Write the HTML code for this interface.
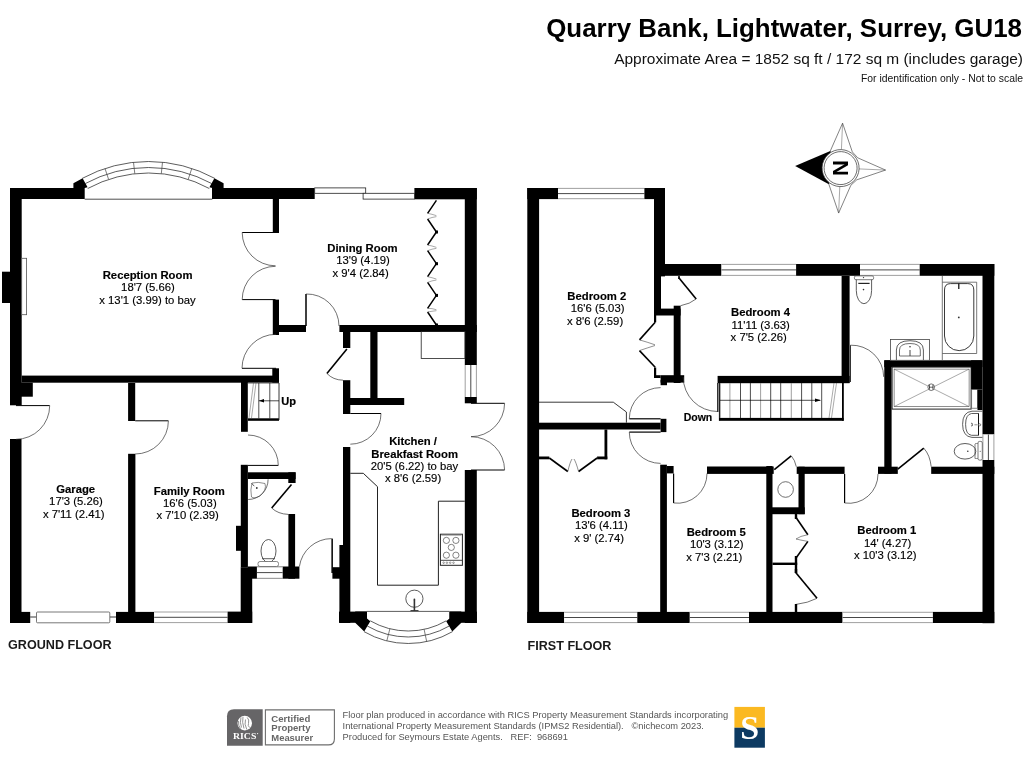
<!DOCTYPE html>
<html><head><meta charset="utf-8"><title>Floor plan</title>
<style>
html,body{margin:0;padding:0;background:#fff;}
body{width:1024px;height:768px;overflow:hidden;font-family:"Liberation Sans",sans-serif;}
svg{display:block;will-change:transform;font-family:"Liberation Sans",sans-serif;}
text{white-space:pre;}
</style></head><body>
<svg width="1024" height="768" viewBox="0 0 1024 768">
<rect width="1024" height="768" fill="#fff"/>
<rect x="10.0" y="188.0" width="64.0" height="11.0" fill="#000"/>
<rect x="212.0" y="188.0" width="102.7" height="11.0" fill="#000"/>
<polygon points="73.4,199.0 73.4,183.3 82.6,178.2 87.6,187.3 84.7,188.0 84.7,199.0" fill="#000"/>
<polygon points="223.6,199.0 223.6,183.3 214.4,178.2 209.4,187.3 212.3,188.0 212.3,199.0" fill="#000"/>
<path d="M82.20,178.40 A138.5,138.5 0 0 1 214.80,178.40" stroke="#333" stroke-width="0.8" fill="none"/>
<path d="M85.07,183.67 A132.5,132.5 0 0 1 211.93,183.67" stroke="#333" stroke-width="0.8" fill="none"/>
<path d="M87.71,188.50 A127,127 0 0 1 209.29,188.50" stroke="#333" stroke-width="0.8" fill="none"/>
<line x1="105.0" y1="168.5" x2="108.6" y2="179.4" stroke="#444" stroke-width="0.7"/>
<line x1="133.5" y1="162.3" x2="134.8" y2="173.7" stroke="#444" stroke-width="0.7"/>
<line x1="162.5" y1="162.2" x2="161.3" y2="173.7" stroke="#444" stroke-width="0.7"/>
<line x1="191.8" y1="168.4" x2="188.2" y2="179.4" stroke="#444" stroke-width="0.7"/>
<line x1="84.7" y1="199.2" x2="212.3" y2="199.2" stroke="#222" stroke-width="0.8"/>
<rect x="10.0" y="188.0" width="11.7" height="217.3" fill="#000"/>
<rect x="10.0" y="439.0" width="11.5" height="184.0" fill="#000"/>
<rect x="2.0" y="271.7" width="8.5" height="31.3" fill="#000"/>
<rect x="21.7" y="258.3" width="4.9" height="56.4" fill="#fff" stroke="#555" stroke-width="0.8" rx="0"/>
<rect x="21.7" y="375.6" width="257.3" height="7.1" fill="#000"/>
<rect x="21.0" y="382.7" width="11.8" height="14.0" fill="#000"/>
<rect x="272.8" y="199.0" width="6.2" height="34.0" fill="#000"/>
<rect x="272.8" y="299.6" width="6.2" height="35.4" fill="#000"/>
<rect x="272.3" y="368.3" width="6.7" height="14.4" fill="#000"/>
<line x1="275.5" y1="232.5" x2="242.2" y2="232.5" stroke="#000" stroke-width="1.0"/>
<path d="M242.20,232.50 A33.30,33.30 0 0 0 275.50,265.80" stroke="#333" stroke-width="0.7" fill="none"/>
<line x1="275.5" y1="299.6" x2="242.2" y2="299.6" stroke="#000" stroke-width="1.0"/>
<path d="M242.20,299.60 A33.30,33.30 0 0 1 275.50,266.30" stroke="#333" stroke-width="0.7" fill="none"/>
<line x1="276.0" y1="368.3" x2="242.0" y2="368.3" stroke="#000" stroke-width="1.0"/>
<path d="M242.00,368.30 A34.00,34.00 0 0 1 276.00,334.30" stroke="#333" stroke-width="0.7" fill="none"/>
<rect x="414.4" y="188.0" width="62.4" height="11.3" fill="#000"/>
<rect x="464.8" y="188.0" width="12.0" height="177.0" fill="#000"/>
<rect x="314.7" y="187.9" width="51.0" height="5.4" fill="#fff" stroke="#222" stroke-width="0.8" rx="0"/>
<rect x="363.1" y="193.3" width="51.3" height="5.8" fill="#fff" stroke="#222" stroke-width="0.8" rx="0"/>
<path d="M436.4,200.3 L427.6,213.3 M427.6,219 L436.4,232" stroke="#000" stroke-width="1.5" fill="none"/>
<path d="M427.6,213.3 Q432,214.15 436.4,215.65 M427.6,219 Q432,217.15 436.4,216.65" stroke="#555" stroke-width="0.5" fill="none"/>
<rect x="435.0" y="230.5" width="3.0" height="3.0" fill="#000"/>
<path d="M436.4,232 L427.6,245 M427.6,250.7 L436.4,263.7" stroke="#000" stroke-width="1.5" fill="none"/>
<path d="M427.6,245 Q432,245.85 436.4,247.35 M427.6,250.7 Q432,248.85 436.4,248.35" stroke="#555" stroke-width="0.5" fill="none"/>
<rect x="435.0" y="262.2" width="3.0" height="3.0" fill="#000"/>
<path d="M436.4,263.7 L427.6,276.7 M427.6,282.4 L436.4,295.4" stroke="#000" stroke-width="1.5" fill="none"/>
<path d="M427.6,276.7 Q432,277.54999999999995 436.4,279.04999999999995 M427.6,282.4 Q432,280.54999999999995 436.4,280.04999999999995" stroke="#555" stroke-width="0.5" fill="none"/>
<rect x="435.0" y="293.9" width="3.0" height="3.0" fill="#000"/>
<path d="M436.4,295.4 L427.6,308.4 M427.6,312 L436.4,325" stroke="#000" stroke-width="1.5" fill="none"/>
<path d="M427.6,308.4 Q432,308.2 436.4,309.7 M427.6,312 Q432,311.2 436.4,310.7" stroke="#555" stroke-width="0.5" fill="none"/>
<rect x="435.0" y="323.5" width="3.0" height="3.0" fill="#000"/>
<rect x="279.0" y="325.0" width="27.0" height="7.0" fill="#000"/>
<rect x="339.4" y="325.0" width="137.4" height="7.0" fill="#000"/>
<line x1="306.0" y1="326.0" x2="306.0" y2="294.0" stroke="#000" stroke-width="1.5"/>
<path d="M306.00,294.00 A32.00,32.00 0 0 1 339.00,326.00" stroke="#333" stroke-width="0.7" fill="none"/>
<rect x="343.0" y="325.0" width="7.3" height="23.0" fill="#000"/>
<rect x="343.0" y="380.2" width="7.3" height="33.8" fill="#000"/>
<rect x="370.3" y="332.0" width="7.2" height="66.0" fill="#000"/>
<rect x="343.0" y="398.0" width="61.2" height="7.0" fill="#000"/>
<line x1="346.9" y1="349.0" x2="326.9" y2="373.4" stroke="#000" stroke-width="1.6"/>
<path d="M326.9,373.4 Q333,380 343,380.2" stroke="#333" stroke-width="0.7" fill="none"/>
<line x1="350.3" y1="413.5" x2="381.0" y2="413.5" stroke="#000" stroke-width="1.0"/>
<path d="M381.00,413.50 A30.70,30.70 0 0 1 350.30,444.20" stroke="#333" stroke-width="0.7" fill="none"/>
<rect x="343.0" y="447.0" width="7.3" height="176.0" fill="#000"/>
<rect x="339.4" y="545.0" width="4.6" height="78.0" fill="#000"/>
<rect x="421.2" y="331.5" width="43.8" height="27.0" fill="none" stroke="#222" stroke-width="0.8" rx="0"/>
<rect x="241.0" y="376.0" width="6.8" height="55.8" fill="#000"/>
<line x1="248.0" y1="383.3" x2="279.0" y2="383.3" stroke="#555" stroke-width="0.6"/>
<rect x="248.0" y="418.3" width="31.0" height="2.5" fill="#000"/>
<line x1="279.0" y1="383.0" x2="279.0" y2="420.0" stroke="#222" stroke-width="0.9"/>
<line x1="258.8" y1="383.0" x2="258.8" y2="418.5" stroke="#222" stroke-width="0.8"/>
<line x1="269.8" y1="383.0" x2="269.8" y2="418.5" stroke="#222" stroke-width="0.8"/>
<line x1="249.0" y1="418.0" x2="253.5" y2="383.0" stroke="#555" stroke-width="0.5"/>
<line x1="251.5" y1="418.0" x2="256.0" y2="383.0" stroke="#555" stroke-width="0.5"/>
<line x1="258.8" y1="400.8" x2="279.0" y2="400.8" stroke="#000" stroke-width="0.7"/>
<polygon points="259.0,400.8 264.0,399.0 264.0,402.6" fill="#000"/>
<text x="281.2" y="405" font-size="11.1" font-weight="bold" text-anchor="start" fill="#000" stroke="#000" stroke-width="0.2">Up</text>
<line x1="248.0" y1="465.4" x2="278.3" y2="465.4" stroke="#000" stroke-width="1.0"/>
<path d="M278.30,465.40 A30.30,30.30 0 0 0 248.00,435.00" stroke="#333" stroke-width="0.7" fill="none"/>
<rect x="248.0" y="472.3" width="47.6" height="6.7" fill="#000"/>
<rect x="288.3" y="472.3" width="7.3" height="10.7" fill="#000"/>
<rect x="240.8" y="464.8" width="7.1" height="102.4" fill="#000"/>
<rect x="240.7" y="567.2" width="11.5" height="55.6" fill="#000"/>
<rect x="236.0" y="525.8" width="5.0" height="25.0" fill="#000"/>
<line x1="291.5" y1="484.6" x2="271.7" y2="508.0" stroke="#000" stroke-width="1.6"/>
<path d="M271.7,508 Q278,514 288.3,514.4" stroke="#333" stroke-width="0.7" fill="none"/>
<rect x="288.4" y="514.0" width="6.7" height="64.7" fill="#000"/>
<rect x="248.0" y="566.5" width="51.4" height="12.2" fill="#000"/>
<rect x="256.9" y="566.5" width="25.8" height="12.2" fill="#fff"/>
<line x1="256.9" y1="566.9" x2="282.7" y2="566.9" stroke="#888" stroke-width="0.8"/>
<line x1="256.9" y1="578.3" x2="282.7" y2="578.3" stroke="#888" stroke-width="0.8"/>
<line x1="256.9" y1="572.6" x2="282.7" y2="572.6" stroke="#333" stroke-width="0.9"/>
<rect x="331.4" y="538.6" width="1.5" height="34.4" fill="#000"/>
<path d="M299.4,566.5 A32.5,32.5 0 0 1 331.6,538.6" stroke="#333" stroke-width="0.7" fill="none"/>
<rect x="332.4" y="567.2" width="7.8" height="11.5" fill="#000"/>
<rect x="128.1" y="383.0" width="7.1" height="38.0" fill="#000"/>
<rect x="128.1" y="453.8" width="7.3" height="169.2" fill="#000"/>
<line x1="16.0" y1="405.6" x2="49.7" y2="405.6" stroke="#000" stroke-width="1.0"/>
<path d="M49.70,405.60 A33.70,33.70 0 0 1 16.00,439.30" stroke="#333" stroke-width="0.7" fill="none"/>
<line x1="135.2" y1="420.8" x2="168.4" y2="420.8" stroke="#000" stroke-width="1.0"/>
<path d="M168.40,420.80 A33.20,33.20 0 0 1 135.20,454.00" stroke="#333" stroke-width="0.7" fill="none"/>
<rect x="10.0" y="611.9" width="20.2" height="11.1" fill="#000"/>
<line x1="30.2" y1="617.0" x2="36.5" y2="617.0" stroke="#222" stroke-width="0.9"/>
<line x1="109.8" y1="617.0" x2="116.0" y2="617.0" stroke="#222" stroke-width="0.9"/>
<rect x="36.5" y="612.0" width="73.3" height="10.8" fill="#fff" stroke="#555" stroke-width="0.8" rx="1"/>
<rect x="116.0" y="611.9" width="38.2" height="11.1" fill="#000"/>
<rect x="154.2" y="611.6" width="73.4" height="11.4" fill="#fff"/>
<line x1="154.2" y1="612.0" x2="227.6" y2="612.0" stroke="#888" stroke-width="0.8"/>
<line x1="154.2" y1="622.6" x2="227.6" y2="622.6" stroke="#888" stroke-width="0.8"/>
<line x1="154.2" y1="617.3" x2="227.6" y2="617.3" stroke="#333" stroke-width="0.9"/>
<rect x="227.6" y="611.6" width="24.6" height="11.4" fill="#000"/>
<rect x="464.8" y="397.0" width="12.0" height="6.3" fill="#000"/>
<rect x="464.8" y="470.0" width="12.0" height="153.0" fill="#000"/>
<rect x="464.8" y="365.0" width="12.0" height="32.0" fill="#fff"/>
<line x1="465.2" y1="365.0" x2="465.2" y2="397.0" stroke="#888" stroke-width="0.8"/>
<line x1="476.4" y1="365.0" x2="476.4" y2="397.0" stroke="#888" stroke-width="0.8"/>
<line x1="470.8" y1="365.0" x2="470.8" y2="397.0" stroke="#333" stroke-width="0.9"/>
<line x1="471.0" y1="403.3" x2="504.6" y2="403.3" stroke="#000" stroke-width="1.0"/>
<path d="M504.60,403.30 A33.60,33.60 0 0 1 471.00,436.70" stroke="#333" stroke-width="0.7" fill="none"/>
<line x1="471.0" y1="470.0" x2="504.6" y2="470.0" stroke="#000" stroke-width="1.0"/>
<path d="M504.60,470.00 A33.60,33.60 0 0 0 471.00,436.70" stroke="#333" stroke-width="0.7" fill="none"/>
<path d="M350.3,473.3 L363.3,473.3 L377.5,486.7 L377.5,585.2 L438.4,585.2 L438.4,501.2 L464.8,501.2" stroke="#222" stroke-width="1.0" fill="none"/>
<rect x="440.4" y="534.2" width="22.0" height="31.1" fill="#fff" stroke="#222" stroke-width="1.0" rx="0"/>
<line x1="441.3" y1="535.2" x2="461.5" y2="535.2" stroke="#888" stroke-width="0.8"/>
<circle cx="446.4" cy="540.4" r="3.1" fill="none" stroke="#333" stroke-width="0.6"/>
<circle cx="455.9" cy="540.4" r="3.1" fill="none" stroke="#333" stroke-width="0.6"/>
<circle cx="451.3" cy="547.4" r="3.1" fill="none" stroke="#333" stroke-width="0.6"/>
<circle cx="446.4" cy="555.2" r="3.1" fill="none" stroke="#333" stroke-width="0.6"/>
<circle cx="455.9" cy="555.2" r="3.1" fill="none" stroke="#333" stroke-width="0.6"/>
<line x1="441.0" y1="560.3" x2="462.0" y2="560.3" stroke="#333" stroke-width="0.9"/>
<circle cx="443.6" cy="562.7" r="0.8" fill="none" stroke="#444" stroke-width="0.5"/>
<circle cx="446.9" cy="562.7" r="0.8" fill="none" stroke="#444" stroke-width="0.5"/>
<circle cx="450.2" cy="562.7" r="0.8" fill="none" stroke="#444" stroke-width="0.5"/>
<circle cx="453.5" cy="562.7" r="0.8" fill="none" stroke="#444" stroke-width="0.5"/>
<circle cx="414.4" cy="598.7" r="8.6" fill="none" stroke="#333" stroke-width="0.8"/>
<line x1="414.4" y1="600.0" x2="414.4" y2="611.0" stroke="#333" stroke-width="1.6"/>
<line x1="410.5" y1="610.6" x2="418.5" y2="610.6" stroke="#333" stroke-width="1.0"/>
<circle cx="414.4" cy="599.5" r="0.9" fill="#333"/>
<rect x="339.0" y="611.6" width="27.7" height="11.2" fill="#000"/>
<rect x="449.5" y="611.6" width="27.4" height="11.2" fill="#000"/>
<polygon points="355.2,611.6 367.0,611.6 367.0,618.5 370.3,621.2 364.2,631.5 355.2,622.7" fill="#000"/>
<polygon points="461.3,611.6 449.5,611.6 449.5,618.5 446.2,621.2 452.3,631.5 461.3,622.7" fill="#000"/>
<line x1="366.7" y1="611.4" x2="449.5" y2="611.4" stroke="#333" stroke-width="0.8"/>
<path d="M452.50,631.64 A88.5,88.5 0 0 1 364.00,631.64" stroke="#333" stroke-width="0.8" fill="none"/>
<path d="M449.25,626.01 A82,82 0 0 1 367.25,626.01" stroke="#333" stroke-width="0.8" fill="none"/>
<path d="M446.25,620.82 A76,76 0 0 1 370.25,620.82" stroke="#333" stroke-width="0.8" fill="none"/>
<line x1="426.7" y1="641.6" x2="424.1" y2="629.3" stroke="#444" stroke-width="0.7"/>
<line x1="386.8" y1="640.9" x2="389.9" y2="628.7" stroke="#444" stroke-width="0.7"/>
<rect x="527.3" y="188.0" width="11.8" height="435.0" fill="#000"/>
<rect x="527.3" y="188.0" width="30.7" height="11.1" fill="#000"/>
<rect x="558.0" y="188.0" width="86.4" height="11.1" fill="#fff"/>
<line x1="558.0" y1="188.4" x2="644.4" y2="188.4" stroke="#888" stroke-width="0.8"/>
<line x1="558.0" y1="198.7" x2="644.4" y2="198.7" stroke="#888" stroke-width="0.8"/>
<line x1="558.0" y1="193.6" x2="644.4" y2="193.6" stroke="#333" stroke-width="0.9"/>
<rect x="644.4" y="188.0" width="20.6" height="11.1" fill="#000"/>
<rect x="654.0" y="188.0" width="11.0" height="88.4" fill="#000"/>
<rect x="654.0" y="276.0" width="7.0" height="39.5" fill="#000"/>
<rect x="654.0" y="264.0" width="67.5" height="11.8" fill="#000"/>
<rect x="721.5" y="264.0" width="74.6" height="11.8" fill="#fff"/>
<line x1="721.5" y1="264.4" x2="796.1" y2="264.4" stroke="#888" stroke-width="0.8"/>
<line x1="721.5" y1="275.4" x2="796.1" y2="275.4" stroke="#888" stroke-width="0.8"/>
<line x1="721.5" y1="269.9" x2="796.1" y2="269.9" stroke="#333" stroke-width="0.9"/>
<rect x="796.1" y="264.0" width="63.9" height="11.8" fill="#000"/>
<rect x="860.0" y="264.0" width="59.7" height="11.8" fill="#fff"/>
<line x1="860.0" y1="264.4" x2="919.7" y2="264.4" stroke="#888" stroke-width="0.8"/>
<line x1="860.0" y1="275.4" x2="919.7" y2="275.4" stroke="#888" stroke-width="0.8"/>
<line x1="860.0" y1="269.9" x2="919.7" y2="269.9" stroke="#333" stroke-width="0.9"/>
<rect x="919.7" y="264.0" width="74.6" height="11.8" fill="#000"/>
<rect x="982.5" y="264.0" width="11.8" height="170.5" fill="#000"/>
<rect x="982.5" y="434.5" width="11.8" height="25.5" fill="#fff"/>
<line x1="982.9" y1="434.5" x2="982.9" y2="460.0" stroke="#888" stroke-width="0.8"/>
<line x1="993.9" y1="434.5" x2="993.9" y2="460.0" stroke="#888" stroke-width="0.8"/>
<line x1="988.4" y1="434.5" x2="988.4" y2="460.0" stroke="#333" stroke-width="0.9"/>
<rect x="982.5" y="460.0" width="11.8" height="163.2" fill="#000"/>
<rect x="527.3" y="611.9" width="36.9" height="11.1" fill="#000"/>
<rect x="564.2" y="611.9" width="73.1" height="11.1" fill="#fff"/>
<line x1="564.2" y1="612.3" x2="637.3" y2="612.3" stroke="#888" stroke-width="0.8"/>
<line x1="564.2" y1="622.6" x2="637.3" y2="622.6" stroke="#888" stroke-width="0.8"/>
<line x1="564.2" y1="617.5" x2="637.3" y2="617.5" stroke="#333" stroke-width="0.9"/>
<rect x="637.3" y="611.9" width="52.5" height="11.1" fill="#000"/>
<rect x="689.8" y="611.9" width="59.2" height="11.1" fill="#fff"/>
<line x1="689.8" y1="612.3" x2="749.0" y2="612.3" stroke="#888" stroke-width="0.8"/>
<line x1="689.8" y1="622.6" x2="749.0" y2="622.6" stroke="#888" stroke-width="0.8"/>
<line x1="689.8" y1="617.5" x2="749.0" y2="617.5" stroke="#333" stroke-width="0.9"/>
<rect x="749.0" y="611.9" width="93.6" height="11.1" fill="#000"/>
<rect x="842.6" y="611.9" width="90.3" height="11.1" fill="#fff"/>
<line x1="842.6" y1="612.3" x2="932.9" y2="612.3" stroke="#888" stroke-width="0.8"/>
<line x1="842.6" y1="622.6" x2="932.9" y2="622.6" stroke="#888" stroke-width="0.8"/>
<line x1="842.6" y1="617.5" x2="932.9" y2="617.5" stroke="#333" stroke-width="0.9"/>
<rect x="932.9" y="611.9" width="61.4" height="11.1" fill="#000"/>
<rect x="661.0" y="308.6" width="19.6" height="6.9" fill="#000"/>
<rect x="673.7" y="305.7" width="6.9" height="77.3" fill="#000"/>
<line x1="678.6" y1="277.4" x2="696.2" y2="298.9" stroke="#000" stroke-width="1.6"/>
<path d="M696.2,298.9 Q690,304 680.6,305.7" stroke="#333" stroke-width="0.7" fill="none"/>
<line x1="679.0" y1="276.0" x2="679.0" y2="279.0" stroke="#000" stroke-width="1.6"/>
<rect x="654.0" y="315.0" width="2.2" height="7.3" fill="#000"/>
<path d="M655.2,322.3 L639.5,339.9" stroke="#000" stroke-width="1.6" fill="none"/>
<path d="M639.5,339.9 Q647,342 655,344.8" stroke="#444" stroke-width="0.6" fill="none"/>
<path d="M655.2,367.3 L639.5,350.6" stroke="#000" stroke-width="1.6" fill="none"/>
<path d="M639.5,350.6 Q647,348 655,345.5" stroke="#444" stroke-width="0.6" fill="none"/>
<rect x="654.0" y="367.5" width="2.2" height="8.5" fill="#000"/>
<rect x="654.0" y="375.2" width="6.6" height="2.8" fill="#000"/>
<rect x="660.6" y="375.2" width="23.6" height="7.4" fill="#000"/>
<rect x="660.6" y="380.0" width="6.4" height="5.2" fill="#000"/>
<line x1="717.8" y1="383.0" x2="717.8" y2="412.0" stroke="#000" stroke-width="1.2"/>
<path d="M683.2,377 A34.5,34.5 0 0 0 717.7,411.5" stroke="#333" stroke-width="0.7" fill="none"/>
<rect x="841.6" y="276.0" width="8.0" height="106.8" fill="#000"/>
<rect x="717.6" y="375.9" width="132.0" height="7.3" fill="#000"/>
<line x1="719.5" y1="383.0" x2="719.5" y2="420.8" stroke="#000" stroke-width="1.2"/>
<rect x="719.5" y="417.9" width="124.1" height="2.9" fill="#000"/>
<rect x="842.0" y="383.0" width="1.8" height="37.8" fill="#000"/>
<line x1="720.2" y1="383.0" x2="720.2" y2="418.0" stroke="#888" stroke-width="0.8"/>
<line x1="729.9" y1="383.0" x2="729.9" y2="418.0" stroke="#888" stroke-width="0.8"/>
<line x1="740.5" y1="383.0" x2="740.5" y2="418.0" stroke="#222" stroke-width="0.8"/>
<line x1="750.4" y1="383.0" x2="750.4" y2="418.0" stroke="#222" stroke-width="0.8"/>
<line x1="760.6" y1="383.0" x2="760.6" y2="418.0" stroke="#888" stroke-width="0.8"/>
<line x1="770.7" y1="383.0" x2="770.7" y2="418.0" stroke="#222" stroke-width="0.8"/>
<line x1="780.7" y1="383.0" x2="780.7" y2="418.0" stroke="#222" stroke-width="0.8"/>
<line x1="791.3" y1="383.0" x2="791.3" y2="418.0" stroke="#888" stroke-width="0.8"/>
<line x1="801.6" y1="383.0" x2="801.6" y2="418.0" stroke="#222" stroke-width="0.8"/>
<line x1="811.8" y1="383.0" x2="811.8" y2="418.0" stroke="#222" stroke-width="0.8"/>
<line x1="821.7" y1="383.0" x2="821.7" y2="418.0" stroke="#222" stroke-width="0.8"/>
<line x1="829.0" y1="418.0" x2="834.0" y2="383.0" stroke="#555" stroke-width="0.5"/>
<line x1="831.5" y1="418.0" x2="836.5" y2="383.0" stroke="#555" stroke-width="0.5"/>
<line x1="720.0" y1="400.3" x2="820.2" y2="400.3" stroke="#000" stroke-width="0.7"/>
<polygon points="821.0,400.3 815.0,398.5 815.0,402.1" fill="#000"/>
<text x="698" y="420.8" font-size="10.5" font-weight="bold" text-anchor="middle" fill="#000" stroke="#000" stroke-width="0.15">Down</text>
<rect x="539.0" y="422.7" width="121.6" height="6.8" fill="#000"/>
<rect x="660.6" y="418.8" width="5.8" height="13.3" fill="#000"/>
<path d="M539,402.2 L613.3,402.2 L626.4,412 L626.4,422.7" stroke="#222" stroke-width="0.9" fill="none"/>
<line x1="660.6" y1="418.8" x2="629.3" y2="418.8" stroke="#000" stroke-width="1.2"/>
<path d="M629.30,418.80 A31.30,31.30 0 0 1 660.60,387.60" stroke="#333" stroke-width="0.7" fill="none"/>
<line x1="660.6" y1="432.1" x2="629.3" y2="432.1" stroke="#000" stroke-width="1.2"/>
<path d="M629.30,432.10 A31.30,31.30 0 0 0 660.60,463.40" stroke="#333" stroke-width="0.7" fill="none"/>
<rect x="539.0" y="456.5" width="10.3" height="2.8" fill="#000"/>
<rect x="597.1" y="456.5" width="10.2" height="2.8" fill="#000"/>
<rect x="604.5" y="429.5" width="2.8" height="29.8" fill="#000"/>
<line x1="549.3" y1="458.0" x2="567.8" y2="471.5" stroke="#000" stroke-width="1.6"/>
<line x1="578.6" y1="471.5" x2="597.1" y2="458.0" stroke="#000" stroke-width="1.6"/>
<path d="M567.8,471.5 Q570,462 572,459 M578.6,471.5 Q576,462 574,459" stroke="#444" stroke-width="0.6" fill="none"/>
<rect x="660.2" y="464.7" width="6.7" height="147.3" fill="#000"/>
<rect x="666.9" y="466.0" width="6.7" height="7.4" fill="#000"/>
<line x1="673.6" y1="473.4" x2="673.6" y2="503.0" stroke="#000" stroke-width="1.2"/>
<path d="M673.60,503.00 A29.60,29.60 0 0 0 707.00,473.40" stroke="#333" stroke-width="0.7" fill="none"/>
<rect x="707.0" y="466.5" width="66.7" height="7.4" fill="#000"/>
<rect x="766.3" y="466.0" width="6.2" height="146.0" fill="#000"/>
<rect x="772.0" y="507.3" width="32.7" height="6.9" fill="#000"/>
<rect x="798.5" y="466.7" width="6.2" height="47.5" fill="#000"/>
<circle cx="785.6" cy="489.5" r="7.8" fill="none" stroke="#333" stroke-width="0.7"/>
<line x1="774.3" y1="469.6" x2="791.2" y2="455.9" stroke="#000" stroke-width="1.6"/>
<path d="M791.25,455.9 Q795,460 796.3,466.7" stroke="#333" stroke-width="0.7" fill="none"/>
<rect x="796.7" y="466.7" width="47.9" height="7.2" fill="#000"/>
<rect x="878.0" y="466.7" width="19.8" height="7.2" fill="#000"/>
<rect x="931.2" y="466.7" width="63.1" height="7.2" fill="#000"/>
<line x1="844.6" y1="473.9" x2="844.6" y2="503.0" stroke="#000" stroke-width="1.2"/>
<path d="M844.60,503.00 A29.10,29.10 0 0 0 878.00,473.90" stroke="#333" stroke-width="0.7" fill="none"/>
<line x1="897.8" y1="469.1" x2="923.8" y2="448.2" stroke="#000" stroke-width="1.6"/>
<path d="M923.8,448.2 Q930,455 931.2,466.7" stroke="#333" stroke-width="0.7" fill="none"/>
<rect x="884.3" y="360.3" width="7.3" height="113.3" fill="#000"/>
<rect x="884.3" y="360.3" width="98.2" height="6.8" fill="#000"/>
<line x1="850.5" y1="345.2" x2="850.5" y2="382.0" stroke="#000" stroke-width="0.8"/>
<path d="M850.5,345.2 A32,32 0 0 1 883.7,376.9" stroke="#333" stroke-width="0.7" fill="none"/>
<rect x="794.8" y="514.0" width="2.4" height="5.0" fill="#000"/>
<line x1="795.5" y1="516.7" x2="807.9" y2="534.7" stroke="#000" stroke-width="1.6"/>
<line x1="807.9" y1="541.4" x2="795.5" y2="558.7" stroke="#000" stroke-width="1.6"/>
<path d="M807.9,534.7 Q800,536 796,539 M807.9,541.4 Q800,540 796,539" stroke="#444" stroke-width="0.6" fill="none"/>
<rect x="794.8" y="556.0" width="2.4" height="17.0" fill="#000"/>
<rect x="772.5" y="562.6" width="24.7" height="2.4" fill="#000"/>
<line x1="795.5" y1="572.3" x2="817.0" y2="598.3" stroke="#000" stroke-width="1.6"/>
<path d="M817,598.3 Q808,603 796,604.4" stroke="#333" stroke-width="0.7" fill="none"/>
<rect x="794.8" y="569.0" width="2.4" height="4.0" fill="#000"/>
<rect x="794.8" y="604.0" width="2.4" height="8.0" fill="#000"/>
<rect x="892.1" y="367.1" width="79.0" height="42.0" fill="#fff" stroke="#222" stroke-width="1.0" rx="0"/>
<rect x="894.1" y="369.1" width="75.0" height="37.5" fill="none" stroke="#444" stroke-width="0.6" rx="0"/>
<line x1="894.1" y1="369.1" x2="969.1" y2="406.6" stroke="#555" stroke-width="0.5"/>
<line x1="894.1" y1="406.6" x2="969.1" y2="369.1" stroke="#555" stroke-width="0.5"/>
<circle cx="931.2" cy="387.2" r="3.3" fill="#fff" stroke="#333" stroke-width="0.7"/>
<line x1="929.5" y1="385.0" x2="929.5" y2="389.5" stroke="#000" stroke-width="0.6"/>
<line x1="932.9" y1="385.0" x2="932.9" y2="389.5" stroke="#000" stroke-width="0.6"/>
<line x1="929.0" y1="387.2" x2="933.5" y2="387.2" stroke="#000" stroke-width="0.6"/>
<rect x="971.1" y="360.3" width="11.4" height="29.3" fill="#000"/>
<rect x="971.7" y="389.6" width="5.8" height="18.6" fill="#fff" stroke="#555" stroke-width="0.7" rx="0"/>
<rect x="977.5" y="389.6" width="5.0" height="20.4" fill="#000"/>
<path d="M982.4,411.2 L972,411.2 Q962.6,412 962.6,424.3 Q962.6,436.5 972,437.4 L982.4,437.4" stroke="#333" stroke-width="0.8" fill="none"/>
<path d="M978.5,413.5 L971.5,413.5 Q965.6,414.5 965.6,424.3 Q965.6,434.5 971.5,435.3 L978.5,435.3 Z" stroke="#333" stroke-width="0.8" fill="none"/>
<line x1="978.5" y1="413.5" x2="978.5" y2="435.3" stroke="#111" stroke-width="1.0"/>
<path d="M971.2,423.2 Q972.8,423.3 972.3,424.5 Q973,425.8 971.2,426" stroke="#222" stroke-width="0.8" fill="none"/>
<line x1="974.4" y1="424.8" x2="977.6" y2="424.8" stroke="#444" stroke-width="0.6"/>
<circle cx="979.6" cy="424.8" r="1.1" fill="#fff" stroke="#333" stroke-width="0.6"/>
<rect x="978.0" y="441.4" width="4.3" height="18.7" fill="#fff" stroke="#555" stroke-width="0.8" rx="1.5"/>
<line x1="975.0" y1="443.5" x2="978.0" y2="443.5" stroke="#555" stroke-width="0.6"/>
<line x1="975.0" y1="458.5" x2="978.0" y2="458.5" stroke="#555" stroke-width="0.6"/>
<ellipse cx="965" cy="451.3" rx="10.8" ry="7.8" fill="#fff" stroke="#333" stroke-width="0.8"/>
<line x1="975.0" y1="444.0" x2="975.0" y2="458.5" stroke="#444" stroke-width="0.7"/>
<circle cx="967.8" cy="451.3" r="0.8" fill="#333"/>
<circle cx="980.2" cy="451.3" r="0.5" fill="#333"/>
<rect x="854.4" y="275.9" width="19.2" height="3.8" fill="#fff" stroke="#444" stroke-width="0.7" rx="1.5"/>
<circle cx="863.5" cy="277.6" r="0.7" fill="#333"/>
<path d="M856.3,279.7 L856.3,290.5 A7.65,13.2 0 0 0 871.6,290.5 L871.6,279.7" stroke="#333" stroke-width="0.8" fill="none"/>
<line x1="858.3" y1="283.4" x2="869.6" y2="283.4" stroke="#222" stroke-width="1.2"/>
<circle cx="863.5" cy="289.6" r="0.8" fill="#333"/>
<line x1="942.3" y1="276.0" x2="942.3" y2="360.3" stroke="#555" stroke-width="0.8"/>
<line x1="942.3" y1="282.2" x2="976.7" y2="282.2" stroke="#555" stroke-width="0.8"/>
<line x1="942.3" y1="353.5" x2="976.7" y2="353.5" stroke="#555" stroke-width="0.8"/>
<line x1="976.7" y1="282.2" x2="976.7" y2="353.5" stroke="#555" stroke-width="0.8"/>
<path d="M944.5,290 Q944.5,283.6 950.5,283.6 L967.8,283.6 Q973.8,283.6 973.8,290 L973.8,336 A14.65,14.65 0 0 1 944.5,336 Z" stroke="#222" stroke-width="0.9" fill="none"/>
<circle cx="958.8" cy="317.4" r="0.9" fill="#333"/>
<line x1="958.8" y1="283.6" x2="958.8" y2="289.0" stroke="#000" stroke-width="1.2"/>
<rect x="890.4" y="339.5" width="39.1" height="20.8" fill="#fff" stroke="#444" stroke-width="0.8" rx="0"/>
<path d="M896.4,360 L896.4,350 Q896.4,340.7 910,340.7 Q923.4,340.7 923.4,350 L923.4,360" stroke="#333" stroke-width="0.8" fill="none"/>
<path d="M899.5,356 L899.5,350 Q899.5,343.5 910,343.5 Q920.3,343.5 920.3,350 L920.3,356 Z" stroke="#333" stroke-width="0.7" fill="none"/>
<circle cx="910" cy="346.8" r="0.8" fill="#333"/>
<line x1="910.0" y1="350.0" x2="910.0" y2="356.0" stroke="#333" stroke-width="0.9"/>
<path d="M268.1,479.3 A20,20 0 0 1 248.2,499.5" stroke="#333" stroke-width="0.7" fill="none"/>
<path d="M252,483 Q258,481.5 265,483.5 Q267,490 260,496 Q254,499 251.5,497 Q250,490 252,483 Z" stroke="#444" stroke-width="0.6" fill="none"/>
<line x1="251.5" y1="483.2" x2="254.3" y2="486.2" stroke="#333" stroke-width="0.8"/>
<circle cx="256.8" cy="488" r="0.9" fill="#333"/>
<ellipse cx="268.5" cy="551" rx="7.5" ry="11.5" fill="#fff" stroke="#333" stroke-width="0.8"/>
<rect x="258.0" y="561.5" width="20.5" height="5.0" fill="#fff" stroke="#555" stroke-width="0.7" rx="2"/>
<line x1="262.0" y1="558.7" x2="275.0" y2="558.7" stroke="#333" stroke-width="0.8"/>
<g transform="rotate(2.5 840.6 168.1)">
<polygon points="840.6,123.1 851.6,151.4 857.3000000000001,157.1 885.6,168.1 857.3000000000001,179.1 851.6,184.79999999999998 840.6,213.1 829.6,184.79999999999998 829.6,151.4" fill="#fff" stroke="#333" stroke-width="0.6"/>
<polygon points="795.1,168.1 829.6,151.4 829.6,184.79999999999998" fill="#000"/>
<line x1="840.6" y1="123.1" x2="840.6" y2="213.1" stroke="#555" stroke-width="0.5"/>
<line x1="840.6" y1="168.1" x2="885.6" y2="168.1" stroke="#555" stroke-width="0.5"/>
<circle cx="840.6" cy="168.1" r="18.5" fill="#fff" stroke="#333" stroke-width="0.7"/>
<circle cx="840.6" cy="168.1" r="16.5" fill="#fff" stroke="#333" stroke-width="0.7"/>
</g>
<text x="840.6" y="168.1" font-size="22" font-weight="bold" text-anchor="middle" transform="rotate(-90 840.6 168.1) translate(0 7.6)">N</text>
<text x="102.7" y="278.8" font-size="11.3" font-weight="bold" text-anchor="start" fill="#000" stroke="#000" stroke-width="0.15">Reception Room</text>
<text x="121.1" y="291.1" font-size="11.3" font-weight="normal" text-anchor="start" fill="#000" stroke="#000" stroke-width="0.15">18'7 (5.66)</text>
<text x="99.3" y="303.5" font-size="11.3" font-weight="normal" text-anchor="start" fill="#000" stroke="#000" stroke-width="0.15">x 13'1 (3.99) to bay</text>
<text x="327.3" y="251.7" font-size="11.3" font-weight="bold" text-anchor="start" fill="#000" stroke="#000" stroke-width="0.15">Dining Room</text>
<text x="336.2" y="264.1" font-size="11.3" font-weight="normal" text-anchor="start" fill="#000" stroke="#000" stroke-width="0.15">13'9 (4.19)</text>
<text x="332.5" y="276.6" font-size="11.3" font-weight="normal" text-anchor="start" fill="#000" stroke="#000" stroke-width="0.15">x 9'4 (2.84)</text>
<text x="389.2" y="445.2" font-size="11.3" font-weight="bold" text-anchor="start" fill="#000" stroke="#000" stroke-width="0.15">Kitchen /</text>
<text x="371.3" y="457.9" font-size="11.3" font-weight="bold" text-anchor="start" fill="#000" stroke="#000" stroke-width="0.15">Breakfast Room</text>
<text x="370.7" y="470.3" font-size="11.3" font-weight="normal" text-anchor="start" fill="#000" stroke="#000" stroke-width="0.15">20'5 (6.22) to bay</text>
<text x="385.0" y="482.3" font-size="11.3" font-weight="normal" text-anchor="start" fill="#000" stroke="#000" stroke-width="0.15">x 8'6 (2.59)</text>
<text x="56.2" y="492.5" font-size="11.3" font-weight="bold" text-anchor="start" fill="#000" stroke="#000" stroke-width="0.15">Garage</text>
<text x="49.1" y="505.4" font-size="11.3" font-weight="normal" text-anchor="start" fill="#000" stroke="#000" stroke-width="0.15">17'3 (5.26)</text>
<text x="42.9" y="517.9" font-size="11.3" font-weight="normal" text-anchor="start" fill="#000" stroke="#000" stroke-width="0.15">x 7'11 (2.41)</text>
<text x="153.8" y="494.8" font-size="11.3" font-weight="bold" text-anchor="start" fill="#000" stroke="#000" stroke-width="0.15">Family Room</text>
<text x="163.0" y="507.2" font-size="11.3" font-weight="normal" text-anchor="start" fill="#000" stroke="#000" stroke-width="0.15">16'6 (5.03)</text>
<text x="156.4" y="519.4" font-size="11.3" font-weight="normal" text-anchor="start" fill="#000" stroke="#000" stroke-width="0.15">x 7'10 (2.39)</text>
<text x="567.3" y="299.8" font-size="11.3" font-weight="bold" text-anchor="start" fill="#000" stroke="#000" stroke-width="0.15">Bedroom 2</text>
<text x="570.8" y="312.4" font-size="11.3" font-weight="normal" text-anchor="start" fill="#000" stroke="#000" stroke-width="0.15">16'6 (5.03)</text>
<text x="567.0" y="324.8" font-size="11.3" font-weight="normal" text-anchor="start" fill="#000" stroke="#000" stroke-width="0.15">x 8'6 (2.59)</text>
<text x="731.0" y="315.6" font-size="11.3" font-weight="bold" text-anchor="start" fill="#000" stroke="#000" stroke-width="0.15">Bedroom 4</text>
<text x="731.6" y="328.6" font-size="11.3" font-weight="normal" text-anchor="start" fill="#000" stroke="#000" stroke-width="0.15">11'11 (3.63)</text>
<text x="730.6" y="340.7" font-size="11.3" font-weight="normal" text-anchor="start" fill="#000" stroke="#000" stroke-width="0.15">x 7'5 (2.26)</text>
<text x="571.4" y="516.8" font-size="11.3" font-weight="bold" text-anchor="start" fill="#000" stroke="#000" stroke-width="0.15">Bedroom 3</text>
<text x="574.9" y="529.2" font-size="11.3" font-weight="normal" text-anchor="start" fill="#000" stroke="#000" stroke-width="0.15">13'6 (4.11)</text>
<text x="574.2" y="541.7" font-size="11.3" font-weight="normal" text-anchor="start" fill="#000" stroke="#000" stroke-width="0.15">x 9' (2.74)</text>
<text x="686.7" y="535.5" font-size="11.3" font-weight="bold" text-anchor="start" fill="#000" stroke="#000" stroke-width="0.15">Bedroom 5</text>
<text x="689.9" y="547.8" font-size="11.3" font-weight="normal" text-anchor="start" fill="#000" stroke="#000" stroke-width="0.15">10'3 (3.12)</text>
<text x="686.2" y="560.6" font-size="11.3" font-weight="normal" text-anchor="start" fill="#000" stroke="#000" stroke-width="0.15">x 7'3 (2.21)</text>
<text x="857.3" y="534.1" font-size="11.3" font-weight="bold" text-anchor="start" fill="#000" stroke="#000" stroke-width="0.15">Bedroom 1</text>
<text x="863.9" y="546.7" font-size="11.3" font-weight="normal" text-anchor="start" fill="#000" stroke="#000" stroke-width="0.15">14' (4.27)</text>
<text x="854.0" y="559.4" font-size="11.3" font-weight="normal" text-anchor="start" fill="#000" stroke="#000" stroke-width="0.15">x 10'3 (3.12)</text>
<text x="8" y="649" font-size="12.6" font-weight="bold" text-anchor="start" fill="#1a1a1a" >GROUND FLOOR</text>
<text x="527.5" y="649.8" font-size="12.6" font-weight="bold" text-anchor="start" fill="#1a1a1a" >FIRST FLOOR</text>
<text x="1022" y="36.6" font-size="25.9" font-weight="bold" text-anchor="end" fill="#000" >Quarry Bank, Lightwater, Surrey, GU18</text>
<text x="1023" y="64.2" font-size="15.47" font-weight="normal" text-anchor="end" fill="#111" >Approximate Area = 1852 sq ft / 172 sq m (includes garage)</text>
<text x="1023" y="82" font-size="10.38" font-weight="normal" text-anchor="end" fill="#111" >For identification only - Not to scale</text>
<path d="M234,709.3 L262.7,709.3 L262.7,745.8 L227,745.8 L227,716.3 Q227,709.3 234,709.3 Z" fill="#666567"/>
<path d="M265.4,709.9 L334.4,709.9 L334.4,738.9 Q334.4,744.9 328.4,744.9 L265.4,744.9 Z" fill="#fff" stroke="#6e6e6e" stroke-width="1.1"/>
<circle cx="244.75" cy="723.1" r="7.3" fill="#fff"/>
<path d="M241,717.5 Q239.5,722 241.5,727.5 M243,716.8 Q241.8,722 244,728.5 M245.5,719.5 Q244,724 246.8,729.5 M247.2,717.5 Q249.5,719.5 248.5,723.5 Q247.5,725.5 249.5,727.5 M238.5,721 Q238,725.5 240.5,728.8" stroke="#888" stroke-width="0.9" fill="none"/>
<text x="233" y="738.8" font-size="8.3" font-weight="bold" text-anchor="start" fill="#fff" font-family="Liberation Serif" textLength="23.3" lengthAdjust="spacingAndGlyphs">RICS</text>
<circle cx="257.6" cy="733.6" r="0.6" fill="#fff"/>
<text x="271.3" y="721.6" font-size="9.5" font-weight="bold" text-anchor="start" fill="#666" textLength="39" lengthAdjust="spacingAndGlyphs">Certified</text>
<text x="271.3" y="731.1" font-size="9.5" font-weight="bold" text-anchor="start" fill="#666" textLength="39.3" lengthAdjust="spacingAndGlyphs">Property</text>
<text x="271.3" y="740.7" font-size="9.5" font-weight="bold" text-anchor="start" fill="#666" textLength="41.9" lengthAdjust="spacingAndGlyphs">Measurer</text>
<text x="342.6" y="717.6" font-size="9.3" font-weight="normal" text-anchor="start" fill="#555" >Floor plan produced in accordance with RICS Property Measurement Standards incorporating</text>
<text x="342.6" y="729" font-size="9.3" font-weight="normal" text-anchor="start" fill="#555" >International Property Measurement Standards (IPMS2 Residential).   ©nichecom 2023.</text>
<text x="342.6" y="739.8" font-size="9.3" font-weight="normal" text-anchor="start" fill="#555" >Produced for Seymours Estate Agents.   REF:  968691</text>
<rect x="734.4" y="706.9" width="30.5" height="20.8" fill="#fbb921"/>
<rect x="734.4" y="727.7" width="30.5" height="20.0" fill="#0d3a62"/>
<text x="749.8" y="739" font-size="34" font-weight="bold" text-anchor="middle" fill="#fff" font-family="Liberation Serif">S</text>
</svg>
</body></html>
